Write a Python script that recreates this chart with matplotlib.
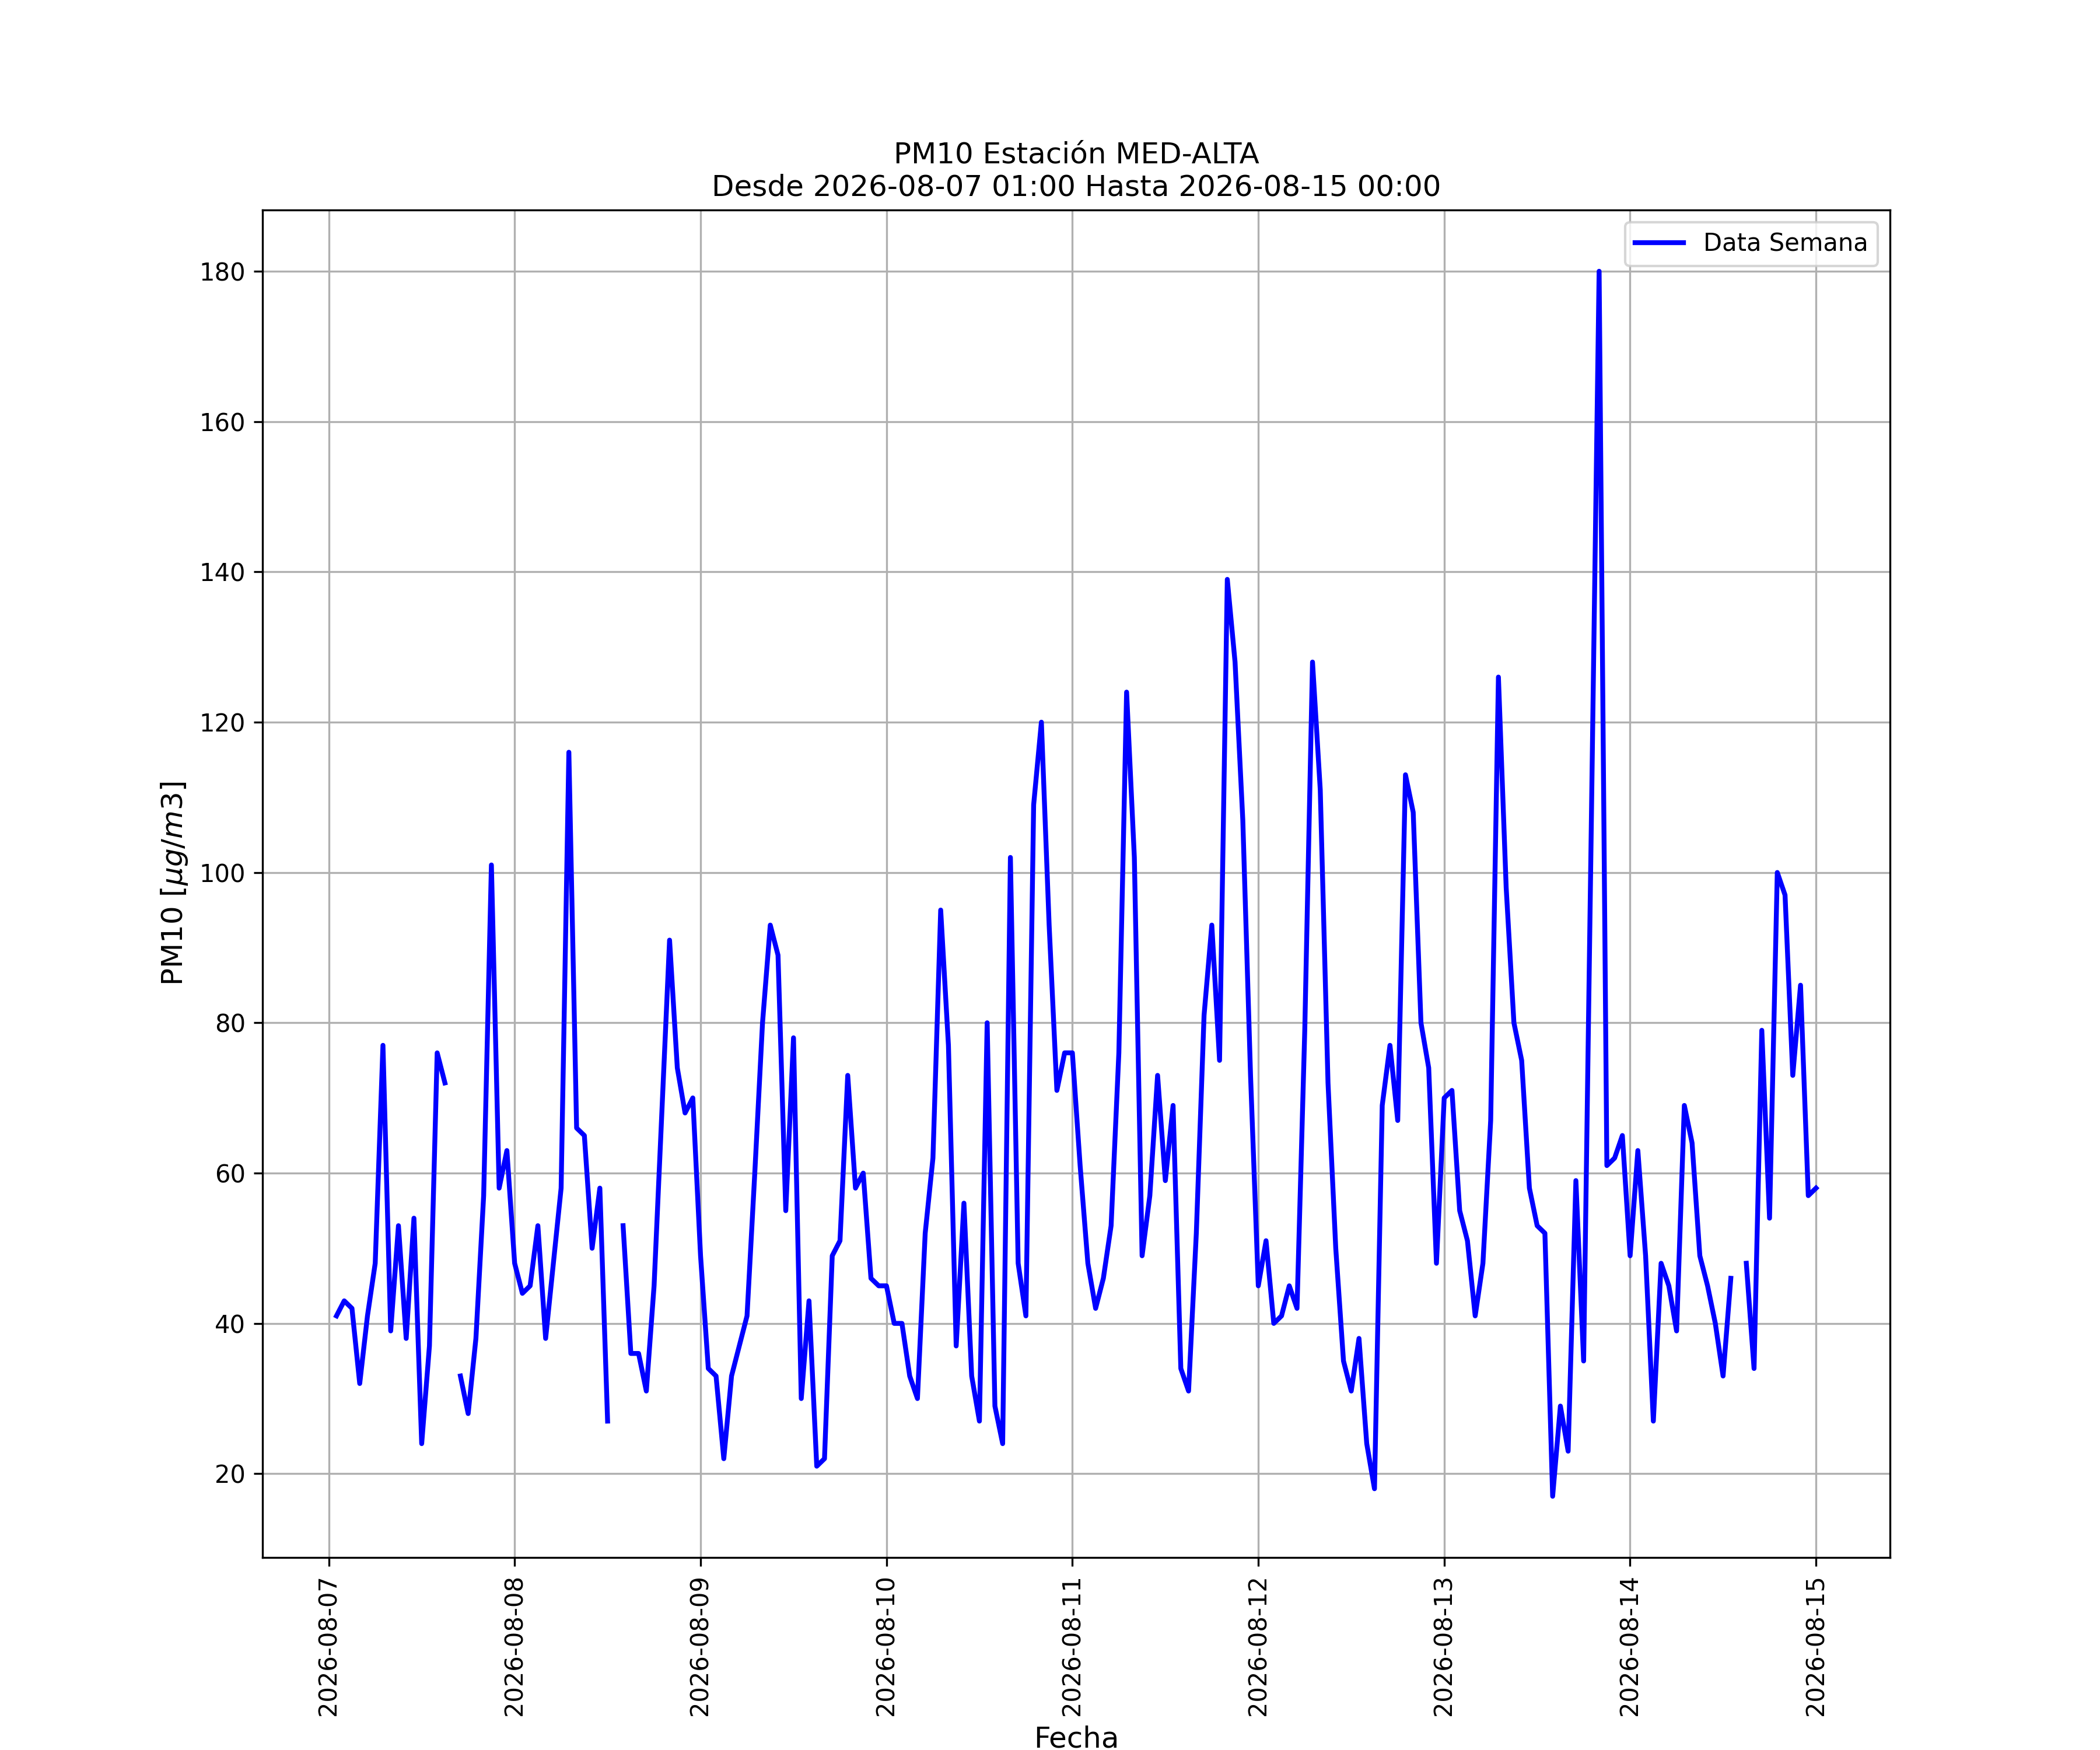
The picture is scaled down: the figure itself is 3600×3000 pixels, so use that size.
import matplotlib

matplotlib.use("Agg")
import matplotlib.dates as mdates  # noqa: E402
import matplotlib.pyplot as plt  # noqa: E402
import numpy as np  # noqa: E402
import pandas as pd  # noqa: E402

nan = np.nan

# hourly PM10, one list per day (01:00 .. 24:00)
dia_07 = [41, 43, 42, 32, 41, 48, 77, 39, 53, 38, 54, 24,
          37, 76, 72, nan, 33, 28, 38, 57, 101, 58, 63, 48]
dia_08 = [44, 45, 53, 38, 48, 58, 116, 66, 65, 50, 58, 27,
          nan, 53, 36, 36, 31, 45, 68, 91, 74, 68, 70, 49]
dia_09 = [34, 33, 22, 33, 37, 41, 60, 80, 93, 89, 55, 78,
          30, 43, 21, 22, 49, 51, 73, 58, 60, 46, 45, 45]
dia_10 = [40, 40, 33, 30, 52, 62, 95, 77, 37, 56, 33, 27,
          80, 29, 24, 102, 48, 41, 109, 120, 93, 71, 76, 76]
dia_11 = [61, 48, 42, 46, 53, 76, 124, 102, 49, 57, 73, 59,
          69, 34, 31, 52, 81, 93, 75, 139, 128, 107, 73, 45]
dia_12 = [51, 40, 41, 45, 42, 79, 128, 111, 72, 50, 35, 31,
          38, 24, 18, 69, 77, 67, 113, 108, 80, 74, 48, 70]
dia_13 = [71, 55, 51, 41, 48, 67, 126, 98, 80, 75, 58, 53,
          52, 17, 29, 23, 59, 35, 107, 180, 61, 62, 65, 49]
dia_14 = [63, 49, 27, 48, 45, 39, 69, 64, 49, 45, 40, 33,
          46, nan, 48, 34, 79, 54, 100, 97, 73, 85, 57, 58]

inicio = "2026-08-07 01:00"
fin = "2026-08-15 00:00"
estacion = "MED-ALTA"

valores = dia_07 + dia_08 + dia_09 + dia_10 + dia_11 + dia_12 + dia_13 + dia_14
fechas = pd.date_range(inicio, periods=len(valores), freq="h")

fig, ax = plt.subplots(figsize=(12, 10), dpi=300)
ax.plot(fechas, valores, color="blue", lw=2, label="Data Semana")
ax.xaxis.set_major_locator(mdates.DayLocator())
ax.xaxis.set_major_formatter(mdates.DateFormatter("%Y-%m-%d"))
plt.xticks(rotation=90)
ax.set_title(f"PM10 Estación {estacion}\nDesde {inicio} Hasta {fin}", fontsize=12)
ax.set_xlabel("Fecha", fontsize=12)
ax.set_ylabel(r"PM10 [$\mu g/m3$]", fontsize=12)
ax.grid(True)
ax.legend(loc="upper right")
fig.savefig("out.png", dpi=300)
plt.close(fig)
